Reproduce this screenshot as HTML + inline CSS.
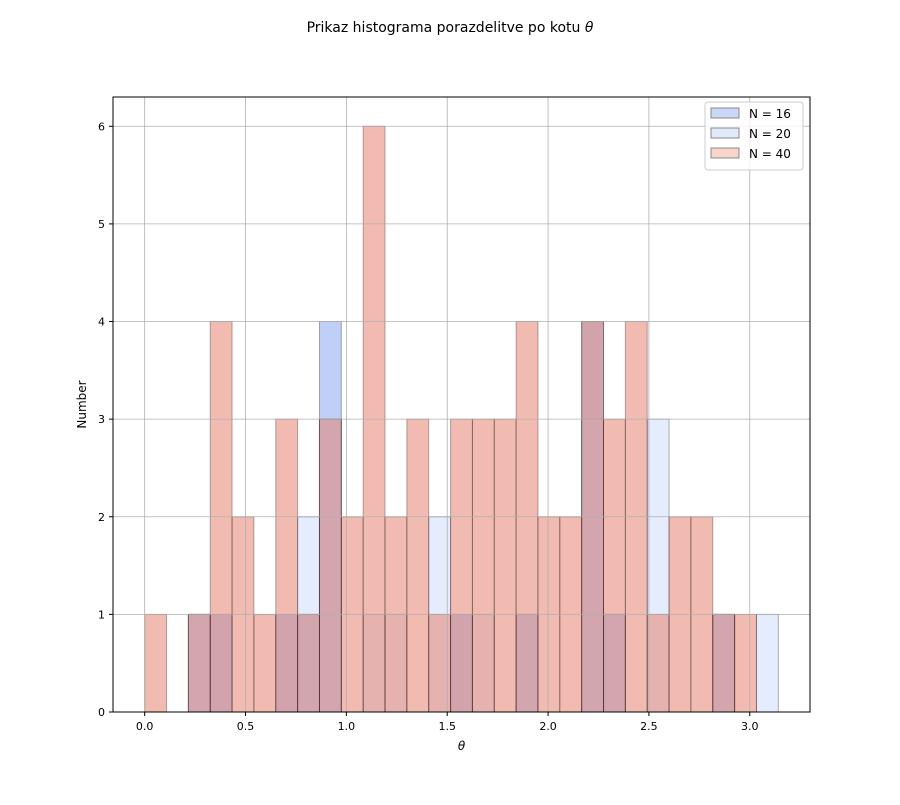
<!DOCTYPE html>
<html><head><meta charset="utf-8"><style>
body{margin:0;background:#fff;font-family:"Liberation Sans","DejaVu Sans",sans-serif}
</style></head><body>
<svg id="chart" width="900" height="800" xmlns="http://www.w3.org/2000/svg" font-family="DejaVu Sans, Liberation Sans, sans-serif">
<rect width="900" height="800" fill="#fff"/>
<text x="450" y="32" text-anchor="middle" font-size="14">Prikaz histograma porazdelitve po kotu <tspan font-style="italic">θ</tspan></text>
<g id="bars"></g>
<g id="grid"></g>
<g id="axes"></g>
</svg>
<script>
const binCount = 29;
const binMax = Math.PI;
const seriesNames = ["N = 16", "N = 20", "N = 40"];
const counts16 = [0,0,1,1,0,0,1,1,4,0,0,0,0,0,1,0,0,1,0,0,4,1,0,0,0,0,1,0,0];
const counts20 = [0,0,1,0,0,0,0,2,3,0,1,1,0,2,0,1,0,1,0,0,3,1,0,3,0,0,1,0,1];
const counts40 = [1,0,1,4,2,1,3,1,3,2,6,2,3,1,3,3,3,4,2,2,4,3,4,1,2,2,1,1,0];
const xTicks = [0.0,0.5,1.0,1.5,2.0,2.5,3.0];
const xTickLabels = ["0.0","0.5","1.0","1.5","2.0","2.5","3.0"];
const yTicks = [0,1,2,3,4,5,6];

const L=113,R=810,T=97,B=712;
const xmin=-0.05*binMax, xmax=binMax*1.05, ymax=6.3;
const X=v=>L+(v-xmin)/(xmax-xmin)*(R-L);
const Y=v=>B-v/ymax*(B-T);
const NS="http://www.w3.org/2000/svg";
function mk(tag,attrs,parent){const e=document.createElementNS(NS,tag);for(const k in attrs)e.setAttribute(k,attrs[k]);parent.appendChild(e);return e;}
const bars=document.getElementById('bars'),grid=document.getElementById('grid'),axes=document.getElementById('axes');
const series=[[counts16,"rgba(130,160,240,0.5)"],[counts20,"rgba(195,212,250,0.45)"],[counts40,"rgba(230,120,100,0.5)"]];
const w=binMax/binCount;
series.forEach((s,si)=>{
  s[0].forEach((c,i)=>{
    if(c<=0)return;
    const r=mk('rect',{x:X(i*w),y:Y(c),width:X((i+1)*w)-X(i*w),height:Y(0)-Y(c),fill:s[1],stroke:'#000','stroke-opacity':0.3,'stroke-width':1},bars);
    
    
  });
});
xTicks.forEach((t,i)=>{
  mk('line',{x1:X(t),x2:X(t),y1:T,y2:B,stroke:'#b0b0b0','stroke-width':0.8},grid);
  mk('line',{x1:X(t),x2:X(t),y1:B,y2:B+4,stroke:'#000'},axes);
  const tx=mk('text',{x:X(t),y:B+18,'text-anchor':'middle','font-size':11},axes);tx.textContent=xTickLabels[i];
  
  
});
yTicks.forEach(t=>{
  mk('line',{x1:L,x2:R,y1:Y(t),y2:Y(t),stroke:'#b0b0b0','stroke-width':0.8},grid);
  mk('line',{x1:L-4,x2:L,y1:Y(t),y2:Y(t),stroke:'#000'},axes);
  const tx=mk('text',{x:L-8,y:Y(t)+4,'text-anchor':'end','font-size':11},axes);tx.textContent=String(t);
  
  
});
const frame=mk('rect',{x:L,y:T,width:R-L,height:B-T,fill:'none',stroke:'#000','stroke-width':1},axes);


const xl=mk('text',{x:(L+R)/2,y:B+38,'text-anchor':'middle','font-size':12,'font-style':'italic'},axes);xl.textContent='θ';


const yl=mk('text',{x:0,y:0,'text-anchor':'middle','font-size':12,transform:'translate(86,'+((T+B)/2)+') rotate(-90)'},axes);yl.textContent='Number';


const lg=mk('g',{},axes);


mk('rect',{x:705,y:102,width:98,height:68,rx:3,fill:'rgba(255,255,255,0.8)',stroke:'#ccc'},lg);
const legFill=["#cbd9f8","#e1e9fb","#f8d5c8"];
seriesNames.forEach((n,i)=>{
  const y=108+i*20;
  const sw=mk('rect',{x:711,y:y,width:28,height:10,fill:legFill[i],stroke:'#888'},lg);
  
  
  const t=mk('text',{x:749,y:y+10,'font-size':12},lg);t.textContent=n;
  
  
});
</script>
</body></html>
